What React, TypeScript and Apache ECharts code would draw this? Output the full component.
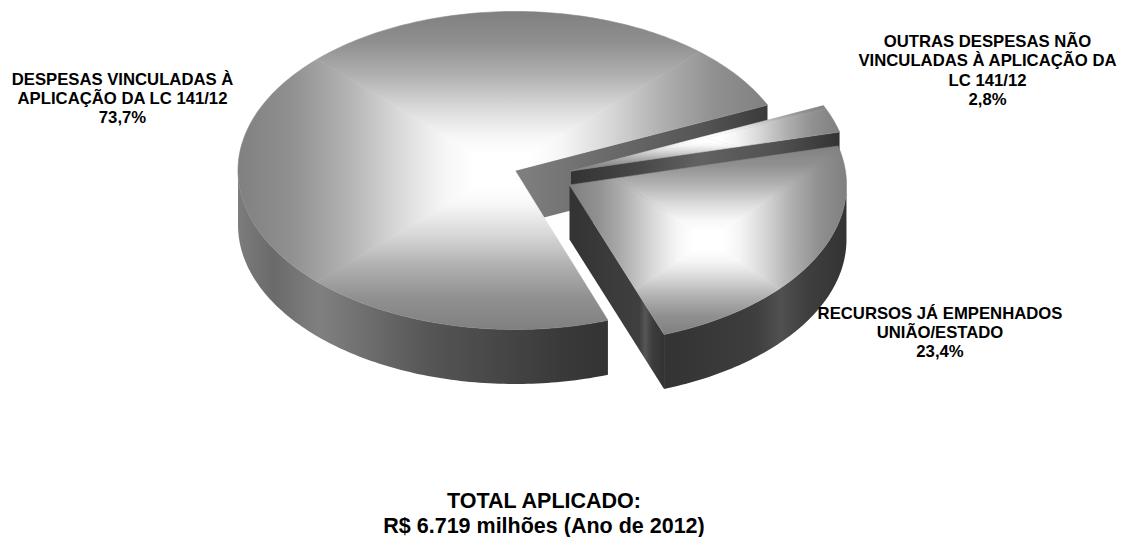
import React, { useEffect, useRef } from "react";
import * as echarts from "echarts";

// ---- data ----
const categories = [
  "DESPESAS VINCULADAS À\nAPLICAÇÃO DA LC 141/12",
  "OUTRAS DESPESAS NÃO\nVINCULADAS À APLICAÇÃO DA\nLC 141/12",
  "RECURSOS JÁ EMPENHADOS\nUNIÃO/ESTADO",
];
const shares = [73.7, 2.8, 23.4];
const shareLabels = ["73,7%", "2,8%", "23,4%"];
const footerLines = ["TOTAL APLICADO:", "R$ 6.719 milhões (Ano de 2012)"];

// ---- layout and style ----
const W = 1121;
const H = 537;
const RX = 277;
const RY = 159;
const DEPTH = 54.5;
const START_DEG = -70.4;
const apexes: [number, number][] = [[515, 170.5], [571, 171], [569.5, 185]];
const labelPos: [number, number][] = [[122.5, 98.5], [987.5, 70.5], [940, 332.5]];
const cutWallStops: [number, string][][] = [
  [[0, "#808080"], [0.34, "#6c6c6c"], [0.74, "#555555"], [1, "#3a3a3a"]],
  [[0, "#333333"], [0.26, "#484848"], [0.48, "#626262"], [0.78, "#505050"], [1, "#333333"]],
  [[0, "#333333"], [0.5, "#3c3c3c"], [0.74, "#3f3f3f"], [0.8, "#565656"], [0.88, "#3c3c3c"], [1, "#333333"]],
];
const rimStops: [number, string][][] = [
  [[0, "#7c7c7c"], [0.095, "#6a6a6a"], [0.22, "#808080"], [0.52, "#555555"], [0.87, "#3a3a3a"], [1, "#333333"]],
  [[0, "#333333"], [1, "#333333"]],
  [[0, "#333333"], [0.5, "#3e3e3e"], [0.64, "#505050"], [0.78, "#3f3f3f"], [1, "#333333"]],
];
const faceStops: [number, string][] = [
  [0, "#808080"],
  [0.2, "#909090"],
  [0.4, "#b0b0b0"],
  [0.6, "#d8d8d8"],
  [0.78, "#f6f6f6"],
  [0.9, "#ffffff"],
  [1, "#ffffff"],
];

type P = [number, number];
const rad = (d: number) => (d * Math.PI) / 180;
const total = 100;

function grad(x: number, y: number, x2: number, y2: number, stops: [number, string][]) {
  return new echarts.graphic.LinearGradient(
    x, y, x2, y2,
    stops.map(([offset, color]) => ({ offset, color })),
    true
  );
}

function clipToTriangle(poly: P[], tri: P[]): P[] {
  let out = poly;
  for (let i = 0; i < 3; i++) {
    const a = tri[i];
    const b = tri[(i + 1) % 3];
    const c = tri[(i + 2) % 3];
    const side = (p: P) => (b[0] - a[0]) * (p[1] - a[1]) - (b[1] - a[1]) * (p[0] - a[0]);
    const sign = side(c) >= 0 ? 1 : -1;
    const next: P[] = [];
    for (let j = 0; j < out.length; j++) {
      const p = out[j];
      const q = out[(j + 1) % out.length];
      const sp = side(p) * sign;
      const sq = side(q) * sign;
      if (sp >= 0) next.push(p);
      if (sp >= 0 !== sq >= 0) {
        const t = sp / (sp - sq);
        next.push([p[0] + (q[0] - p[0]) * t, p[1] + (q[1] - p[1]) * t]);
      }
    }
    out = next;
    if (!out.length) break;
  }
  return out;
}

function poly(points: P[], fill: any, stroke = true) {
  return {
    type: "polygon",
    silent: true,
    shape: { points },
    style: stroke ? { fill, stroke: fill, lineWidth: 0.6 } : { fill },
  };
}

function renderSlice(params: any, api: any) {
  const i = params.dataIndex;
  const before = shares.slice(0, i).reduce((s, v) => s + v, 0);
  const value = api.value(0);
  const a0 = START_DEG - (before / total) * 360;
  const a1 = a0 - (value / total) * 360;
  const [cx, cy] = apexes[i];
  const at = (deg: number): P => [cx + RX * Math.cos(rad(deg)), cy - RY * Math.sin(rad(deg))];
  const down = (p: P): P => [p[0], p[1] + DEPTH];

  const arc: number[] = [];
  const steps = Math.max(4, Math.ceil(a0 - a1));
  for (let k = 0; k <= steps; k++) arc.push(a0 + ((a1 - a0) * k) / steps);
  const top: P[] = [[cx, cy], ...arc.map(at)];
  const children: any[] = [];

  // radial cut faces that look towards the viewer
  const cutFace = (deg: number) => {
    const c: P = [cx, cy];
    const e = at(deg);
    children.push(
      poly([c, e, down(e), down(c)], grad(Math.min(c[0], e[0]), 0, Math.max(c[0], e[0]), 0, cutWallStops[i]), false)
    );
  };
  if (Math.cos(rad(a1)) > 0) cutFace(a1);
  if (Math.cos(rad(a0)) < 0) cutFace(a0);

  // front part of the rim
  const front = arc.filter((d) => Math.sin(rad(d)) <= 0.0001);
  if (front.length > 1) {
    const pts = front.map(at);
    const xs = pts.map((p) => p[0]);
    const wall: P[] = [...pts, ...pts.slice().reverse().map(down)];
    children.push(poly(wall, grad(Math.min(...xs), 0, Math.max(...xs), 0, rimStops[i]), false));
  }

  // top face: a rectangular gradient, white in the middle of its bounding box
  const xs = top.map((p) => p[0]);
  const ys = top.map((p) => p[1]);
  const x0 = Math.min(...xs);
  const x1 = Math.max(...xs);
  const y0 = Math.min(...ys);
  const y1 = Math.max(...ys);
  const mx = (x0 + x1) / 2;
  const my = (y0 + y1) / 2;
  const m: P = [mx, my];
  const quads: { tri: P[]; from: P }[] = [
    { tri: [[x0, y0], [x1, y0], m], from: [mx, y0] },
    { tri: [[x1, y0], [x1, y1], m], from: [x1, my] },
    { tri: [[x1, y1], [x0, y1], m], from: [mx, y1] },
    { tri: [[x0, y1], [x0, y0], m], from: [x0, my] },
  ];
  quads.forEach(({ tri, from }) => {
    const piece = clipToTriangle(top, tri);
    if (piece.length > 2) children.push(poly(piece, grad(from[0], from[1], mx, my, faceStops)));
  });

  return { type: "group", children };
}

export default function App() {
  const ref = useRef<HTMLDivElement>(null);
  useEffect(() => {
    document.body.style.margin = "0";
    const chart = echarts.init(ref.current!, undefined, { renderer: "svg", width: W, height: H });
    const labelFont = { fontFamily: "Liberation Sans", fontWeight: "bold" as const, fontSize: 16.7, fill: "#000" };
    chart.setOption({
      animation: false,
      backgroundColor: "#ffffff",
      title: {
        text: footerLines.join("\n"),
        left: 544,
        top: 488,
        padding: 0,
        textAlign: "center",
        textStyle: {
          fontFamily: "Liberation Sans",
          fontWeight: "bold",
          fontSize: 21.5,
          lineHeight: 25,
          color: "#000",
        },
      },
      series: [
        {
          type: "custom",
          coordinateSystem: "none",
          clip: false,
          silent: true,
          data: shares.map((v) => [v]),
          renderItem: renderSlice,
        },
      ],
      graphic: categories.map((name, i) => ({
        type: "text",
        z: 50,
        silent: true,
        x: labelPos[i][0],
        y: labelPos[i][1],
        style: {
          ...labelFont,
          text: `${name}\n${shareLabels[i]}`,
          align: "center",
          verticalAlign: "middle",
          lineHeight: 19.4,
        },
      })),
    });
    return () => chart.dispose();
  }, []);
  return <div ref={ref} style={{ width: W, height: H, position: "absolute", left: 0, top: 0 }} />;
}
